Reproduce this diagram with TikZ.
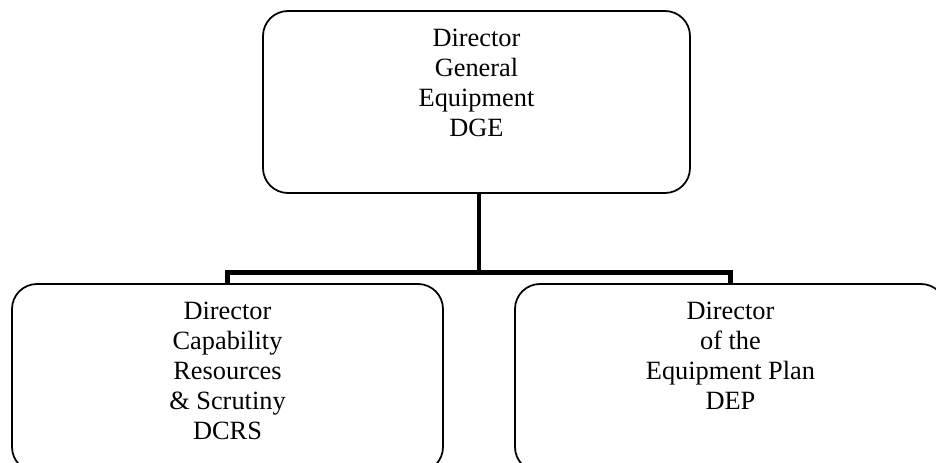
\documentclass[tikz,border=0pt]{standalone}
\usepackage{fontspec}
\setmainfont{Liberation Serif}
\usepackage{tikz}
\usetikzlibrary{positioning,calc}

\begin{document}
\begin{tikzpicture}[
  font=\fontsize{15}{17.07}\selectfont,
  boite/.style={draw=black, line width=1pt, rounded corners=0.5cm, fill=white, inner sep=0pt},
  texte/.style={align=center, inner sep=0pt, anchor=north},
  lien/.style={draw=black, line width=2.8pt}
]

\useasboundingbox (0,0) rectangle (18.72,-9.26);
\clip (0,0) rectangle (18.72,-9.26);

\node[boite, minimum width=8.54cm, minimum height=3.64cm] (dge) at (9.53,-2.04) {};
\node[texte] (dgetxt) at ($(dge.north)+(0,-0.37)$) {Director\\General\\Equipment\\DGE};

\node[boite, minimum width=8.62cm, minimum height=3.76cm] (dcrs) at (4.55,-7.56) {};
\node[texte] (dcrstxt) at ($(dcrs.north)+(0,-0.37)$) {Director\\Capability\\Resources\\\& Scrutiny\\DCRS};

\node[boite, minimum width=8.62cm, minimum height=3.76cm] (dep) at (14.61,-7.56) {};
\node[texte] (deptxt) at ($(dep.north)+(0,-0.37)$) {Director\\of the\\Equipment Plan\\DEP};

\coordinate (split) at ($(dge.south)+(0.05,-1.58)$);
\draw[lien] ($(dge.south)+(0.05,0)$) -- (split);
\draw[lien] (split) -| (dcrs.north);
\draw[lien] (split) -| (dep.north);

\end{tikzpicture}
\end{document}
